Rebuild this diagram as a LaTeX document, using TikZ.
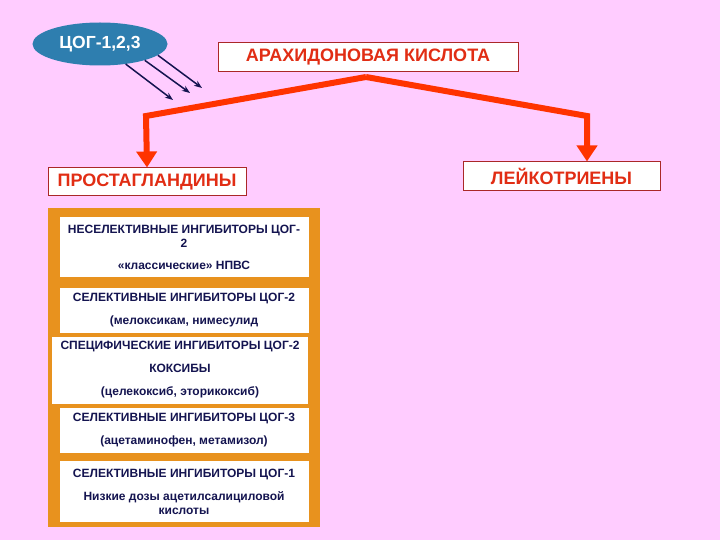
\documentclass[tikz,border=0pt]{standalone}
\usepackage{fontspec}
\setmainfont{Liberation Sans}
\usetikzlibrary{shapes.geometric,arrows.meta}
\definecolor{pinkbg}{RGB}{255,204,255}
\definecolor{cogblue}{RGB}{46,126,175}
\definecolor{acidred}{RGB}{255,51,0}
\definecolor{titlered}{RGB}{225,45,20}
\definecolor{boxedge}{RGB}{170,40,40}
\definecolor{panelorange}{RGB}{232,146,30}
\definecolor{navytext}{RGB}{20,20,80}
\begin{document}
\begin{tikzpicture}[x=1pt,y=-1pt]
  \tikzstyle{headbox}=[draw=boxedge,line width=1pt,fill=white,text=titlered,
    font=\fontsize{18}{20}\selectfont\bfseries,inner sep=0pt]
  \tikzstyle{drugbox}=[fill=white,text=navytext,align=center,inner sep=0pt,
    font=\fontsize{12}{14}\selectfont\bfseries,minimum width=249pt]
  \tikzstyle{bigarrow}=[acidred,line width=6pt,
    -{Triangle[length=16pt,width=20pt]}]
  \tikzstyle{cogarrow}=[navytext,line width=1.5pt,-{Stealth[length=8pt,width=6pt]}]
  \fill[pinkbg] (0,0) rectangle (720,540);
  % enzyme and substrate
  \node[ellipse,fill=cogblue,text=white,minimum width=135pt,minimum height=43pt,
    inner sep=0pt,font=\fontsize{17.5}{20}\selectfont\bfseries] (cog) at (100,44) {ЦОГ-1,2,3};
  \node[headbox,minimum width=300pt,minimum height=29pt] (acid) at (368,57.5)
    {АРАХИДОНОВАЯ КИСЛОТА};
  \coordinate (e1) at (173,100);
  \coordinate (e2) at (190,93);
  \coordinate (e3) at (202,88);
  \draw[cogarrow] (cog.-38) -- (e1);
  \draw[cogarrow] (cog.-20) -- (e2);
  \draw[cogarrow] (cog.-11) -- (e3);
  % two pathways
  \node[headbox,minimum width=198pt,minimum height=28pt] (pg) at (147,182)
    {ПРОСТАГЛАНДИНЫ};
  \node[headbox,minimum width=197pt,minimum height=29pt] (lt) at (561.5,176.5)
    {ЛЕЙКОТРИЕНЫ};
  \coordinate (fork) at (366,77);
  \coordinate (lcorner) at (146,116);
  \coordinate (rcorner) at (587,116);
  \draw[bigarrow] (fork) -- (lcorner) -- (pg.north);
  \draw[bigarrow] (fork) -- (rcorner) -- (rcorner |- lt.north);
  % inhibitors
  \node[fill=panelorange,minimum width=272pt,minimum height=319pt,inner sep=0pt]
    (panel) at (184,367.5) {};
  \node[drugbox,minimum height=60pt] (nonsel) at (184,247)
    {НЕСЕЛЕКТИВНЫЕ ИНГИБИТОРЫ ЦОГ-\\2\\[8pt]«классические» НПВС};
  \node[drugbox,minimum height=45pt] (sel2) at (184,310)
    {СЕЛЕКТИВНЫЕ ИНГИБИТОРЫ ЦОГ-2\\[9pt](мелоксикам, нимесулид};
  \node[drugbox,minimum width=256pt,minimum height=67pt] (spec2) at (180,370)
    {СПЕЦИФИЧЕСКИЕ ИНГИБИТОРЫ ЦОГ-2\\[9pt]КОКСИБЫ\\[9pt](целекоксиб, эторикоксиб)};
  \node[drugbox,minimum height=45pt] (sel3) at (184,430)
    {СЕЛЕКТИВНЫЕ ИНГИБИТОРЫ ЦОГ-3\\[9pt](ацетаминофен, метамизол)};
  \node[drugbox,minimum height=61pt] (sel1) at (184,491.5)
    {СЕЛЕКТИВНЫЕ ИНГИБИТОРЫ ЦОГ-1\\[9pt]Низкие дозы ацетилсалициловой\\кислоты};
\end{tikzpicture}
\end{document}
